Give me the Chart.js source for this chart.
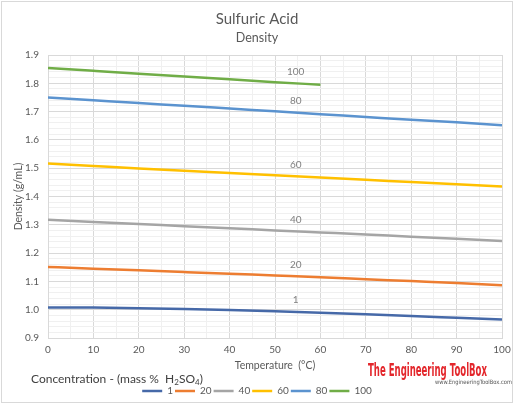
<!DOCTYPE html>
<html>
<head>
<meta charset="utf-8">
<script src="https://cdn.jsdelivr.net/npm/chart.js@4.4.1/dist/chart.umd.min.js"></script>
<style>
  html, body { margin: 0; padding: 0; background: #fff; }
</style>
</head>
<body>
<canvas id="densityChart" width="520" height="406"></canvas>
<script>
// temperature (C) and density (g/mL)
const temperatures = [0, 10, 20, 30, 40, 50, 60, 70, 80, 90, 100];
const density1 = [1.008, 1.0075, 1.0055, 1.0025, 0.9988, 0.9945, 0.9895, 0.984, 0.978, 0.9715, 0.965];
const density20 = [1.151, 1.145, 1.139, 1.133, 1.127, 1.121, 1.115, 1.108, 1.101, 1.094, 1.086];
const density40 = [1.318, 1.310, 1.303, 1.295, 1.288, 1.280, 1.273, 1.266, 1.258, 1.251, 1.243];
const density60 = [1.517, 1.508, 1.499, 1.491, 1.483, 1.475, 1.467, 1.459, 1.451, 1.443, 1.435];
const density80 = [1.750, 1.740, 1.730, 1.721, 1.711, 1.701, 1.691, 1.681, 1.671, 1.662, 1.652];
const density100 = [1.854, 1.844, 1.834, 1.824, 1.814, 1.804, 1.795];
const concentrations = ['1', '20', '40', '60', '80', '100'];

const FONT = 'Lato';

function toPoints(values) {
  return values.map((v, i) => ({ x: temperatures[i], y: v }));
}

function makeSeries(label, values, color) {
  return {
    label: label,
    data: toPoints(values),
    borderColor: color,
    backgroundColor: color,
    borderWidth: 2.5,
    pointRadius: 0,
    pointStyle: 'line',
    cubicInterpolationMode: 'monotone',
    fill: false
  };
}

// white background and the thin frame round the chart
const framePlugin = {
  id: 'frame',
  beforeDraw(chart) {
    const ctx = chart.ctx;
    ctx.save();
    ctx.fillStyle = '#ffffff';
    ctx.fillRect(0, 0, chart.width, chart.height);
    ctx.strokeStyle = '#d9d9d9';
    ctx.lineWidth = 1;
    ctx.strokeRect(1.5, 1.5, 511, 401);
    ctx.restore();
  }
};

// concentration label above each line
const lineLabelPlugin = {
  id: 'lineLabels',
  afterDatasetsDraw(chart) {
    const ctx = chart.ctx;
    ctx.save();
    ctx.font = '10px ' + FONT;
    ctx.fillStyle = '#808080';
    ctx.textAlign = 'center';
    ctx.textBaseline = 'middle';
    chart.data.datasets.forEach((ds, i) => {
      const pts = chart.getDatasetMeta(i).data;
      const a = pts[5], b = pts[6];
      ctx.fillText(ds.label, (a.x + b.x) / 2 - 2, (a.y + b.y) / 2 - 12);
    });
    ctx.restore();
  }
};

function fitText(ctx, text, x, y, width) {
  const w = ctx.measureText(text).width;
  ctx.save();
  ctx.translate(x, y);
  ctx.scale(width / w, 1);
  ctx.fillText(text, 0, 0);
  ctx.restore();
}

// legend heading (with subscripts) and the logo
const extrasPlugin = {
  id: 'extras',
  afterDraw(chart) {
    const ctx = chart.ctx;
    const lg = chart.legend;
    ctx.save();
    ctx.textBaseline = 'middle';
    ctx.textAlign = 'left';
    ctx.fillStyle = '#404040';
    const y = lg.top + 7;
    let x = 31;
    const parts = [['Concentration - (mass %  H', 0], ['2', 1], ['SO', 0], ['4', 1], [')', 0]];
    parts.forEach(([t, sub]) => {
      ctx.font = (sub ? '8px ' : '12px ') + FONT;
      ctx.fillText(t, x, sub ? y + 3 : y);
      x += ctx.measureText(t).width;
    });

    ctx.textBaseline = 'alphabetic';
    ctx.fillStyle = '#e3262b';
    ctx.font = 'bold 18px "DejaVu Sans"';
    fitText(ctx, 'The Engineering ToolBox', 368, 376, 119);
    ctx.fillStyle = '#555555';
    ctx.font = '6px "DejaVu Sans"';
    fitText(ctx, 'www.EngineeringToolBox.com', 435, 384, 77);
    ctx.restore();
  }
};

new Chart(document.getElementById('densityChart'), {
  type: 'line',
  data: {
    datasets: [
      makeSeries(concentrations[0], density1, '#4669a8'),
      makeSeries(concentrations[1], density20, '#ed7d31'),
      makeSeries(concentrations[2], density40, '#a5a5a5'),
      makeSeries(concentrations[3], density60, '#ffc000'),
      makeSeries(concentrations[4], density80, '#5b93cf'),
      makeSeries(concentrations[5], density100, '#70ad47')
    ]
  },
  options: {
    responsive: false,
    animation: false,
    layout: {
      padding: { left: 12, right: 18, top: 2, bottom: 0 }
    },
    scales: {
      x: {
        type: 'linear',
        min: 0,
        max: 100,
        afterFit: (scale) => { scale.height = 34; },
        grid: {
          drawTicks: false,
          color: (c) => (c.tick && c.tick.value % 10 === 0) ? '#d9d9d9' : '#f0f0f0'
        },
        border: { color: '#d9d9d9' },
        ticks: {
          stepSize: 5,
          autoSkip: false,
          maxRotation: 0,
          padding: 6,
          color: '#595959',
          font: { family: FONT, size: 10 },
          callback: (v) => v % 10 === 0 ? v : ''
        },
        title: {
          display: true,
          text: 'Temperature  (°C)',
          color: '#595959',
          font: { family: FONT, size: 10.5 },
          padding: { top: 0, bottom: 0 }
        }
      },
      y: {
        min: 0.9,
        max: 1.9,
        afterFit: (scale) => { scale.width = 36; },
        grid: {
          drawTicks: false,
          color: (c) => (c.tick && Math.round(c.tick.value * 100) % 10 === 0) ? '#d9d9d9' : '#f0f0f0'
        },
        border: { color: '#d9d9d9' },
        ticks: {
          stepSize: 0.02,
          autoSkip: false,
          maxTicksLimit: 100,
          padding: 9,
          color: '#595959',
          font: { family: FONT, size: 10 },
          callback: (v) => Math.round(v * 100) % 10 === 0 ? v.toFixed(1) : ''
        },
        title: {
          display: true,
          text: 'Density (g/mL)',
          color: '#595959',
          font: { family: FONT, size: 10.5 },
          padding: { top: 0, bottom: 2 }
        }
      }
    },
    plugins: {
      title: {
        display: true,
        text: 'Sulfuric Acid',
        color: '#595959',
        font: { family: FONT, size: 15, weight: 'normal' },
        padding: { top: 8, bottom: 2 }
      },
      subtitle: {
        display: true,
        text: 'Density',
        color: '#595959',
        font: { family: FONT, size: 12.5 },
        padding: { top: 0, bottom: 10 }
      },
      legend: {
        position: 'bottom',
        title: {
          display: true,
          text: 'Concentration',
          color: 'rgba(0,0,0,0)',
          font: { family: FONT, size: 10 },
          padding: { top: 0, bottom: 0 }
        },
        labels: {
          usePointStyle: true,
          pointStyle: 'line',
          pointStyleWidth: 20,
          boxHeight: 10,
          padding: 2,
          color: '#595959',
          font: { family: FONT, size: 10 }
        }
      },
      tooltip: { enabled: false }
    }
  },
  plugins: [framePlugin, lineLabelPlugin, extrasPlugin]
});
</script>
</body>
</html>
